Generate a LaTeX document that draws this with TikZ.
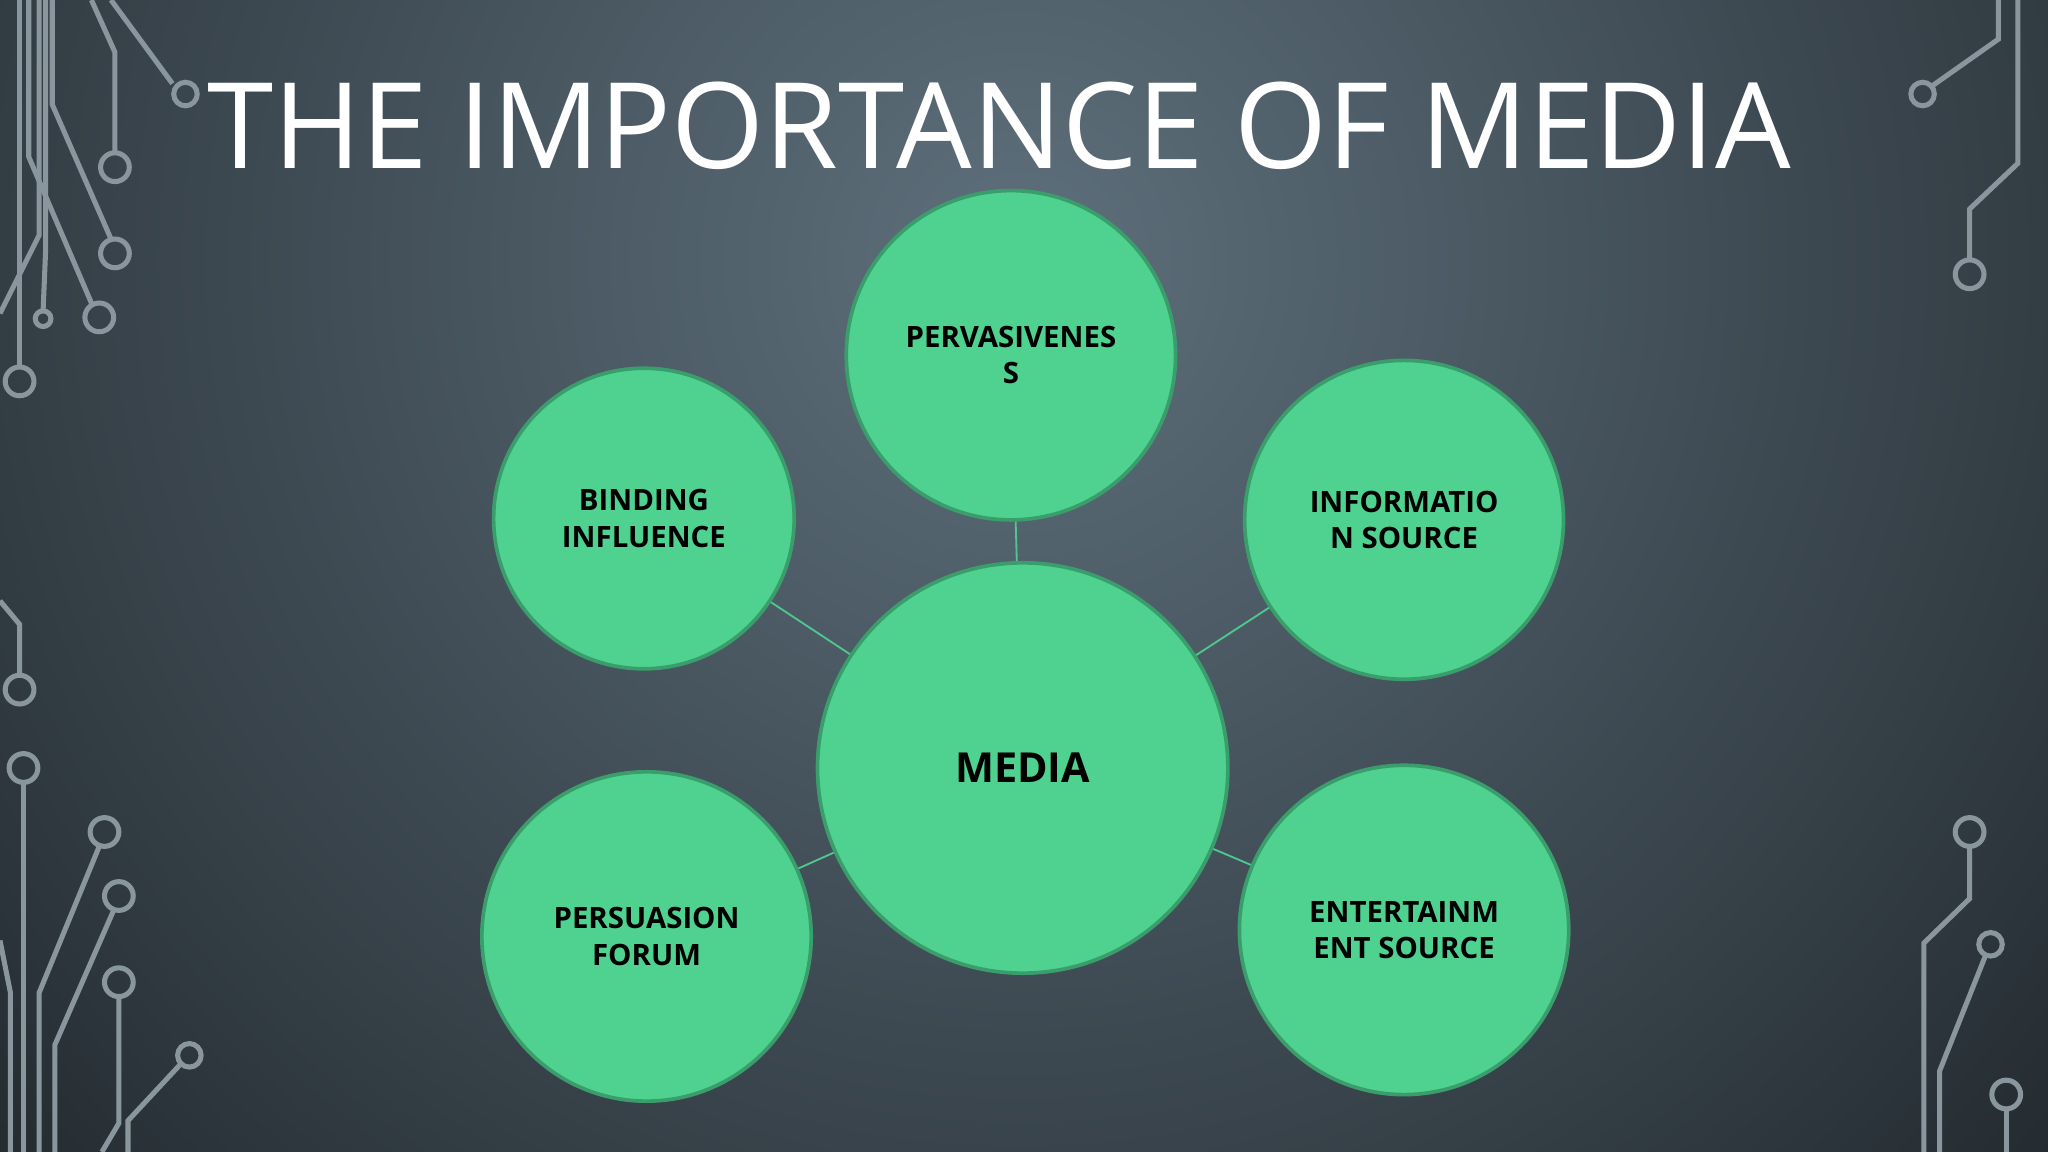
\documentclass[tikz,border=0pt]{standalone}
\usepackage{fontspec}
\setmainfont{Open Sans}
\definecolor{bgout}{HTML}{161B1F}
\definecolor{bgin}{HTML}{5E707C}
\definecolor{cfill}{HTML}{4FD190}
\definecolor{cdraw}{HTML}{3A9E6C}
\definecolor{eline}{HTML}{4FC890}
\definecolor{trace}{HTML}{8A969E}
\begin{document}
\begin{tikzpicture}[x=0.01cm,y=-0.01cm,
  bub/.style={circle,fill=cfill,draw=cdraw,line width=0.8pt,align=center,font=\bfseries\fontsize{6.4}{7.9}\selectfont,text=black,inner sep=0pt},
  conn/.style={draw=eline,line width=0.4pt},
  tr/.style={draw=trace,line width=1.1pt},
  pad/.style={draw=trace,line width=1.1pt}]
\useasboundingbox (0,0) rectangle (1568,882);
\begin{scope}
\clip (0,0) rectangle (1568,882);
\fill[bgout] (0,0) rectangle (1568,882);
\shade[inner color=bgin,outer color=bgout] (780,200) circle (1300);
\end{scope}
% circuit traces
\draw[tr] (15,0) -- (15,281); \draw[pad] (15,292) circle (11);
\draw[tr] (30,0) -- (30,180) -- (0,240);
\draw[tr] (35,0) -- (35,190) -- (33,238); \draw[pad] (33,244) circle (6);
\draw[tr] (40,0) -- (40,80) -- (85,183); \draw[pad] (88,194) circle (11);
\draw[tr] (22,0) -- (22,120) -- (70,232); \draw[pad] (76,243) circle (11);
\draw[tr] (70,0) -- (88,40) -- (88,117); \draw[pad] (88,128) circle (11);
\draw[tr] (85,0) -- (132,64); \draw[pad] (142,72) circle (9);
\draw[tr] (1530,0) -- (1530,30) -- (1479,66); \draw[pad] (1472,72) circle (9);
\draw[tr] (1545,0) -- (1545,125) -- (1508,160) -- (1508,199); \draw[pad] (1508,210) circle (11);
\draw[pad] (1508,637) circle (11); \draw[tr] (1508,648) -- (1508,688) -- (1473,722) -- (1473,882);
\draw[pad] (1524,723) circle (9); \draw[tr] (1520,732) -- (1485,820) -- (1485,882);
\draw[pad] (1536,838) circle (11); \draw[tr] (1536,849) -- (1536,882);
\draw[tr] (0,460) -- (15,478) -- (15,517); \draw[pad] (15,528) circle (11);
\draw[pad] (18,588) circle (11); \draw[tr] (18,599) -- (18,882);
\draw[tr] (0,720) -- (8,760) -- (8,882);
\draw[pad] (80,637) circle (11); \draw[tr] (76,648) -- (30,760) -- (30,882);
\draw[pad] (91,686) circle (11); \draw[tr] (87,697) -- (42,800) -- (42,882);
\draw[pad] (91,752) circle (11); \draw[tr] (91,763) -- (91,860) -- (78,882);
\draw[pad] (145,808) circle (9); \draw[tr] (138,815) -- (98,858) -- (98,882);
% title
\node[anchor=base west,text=white,font=\fontsize{26}{30}\selectfont,inner sep=0pt] (title) at (158,129) {THE IMPORTANCE OF MEDIA};
% bubbles
\node[bub,minimum size=3.14cm,font=\bfseries\fontsize{9}{11}\selectfont] (media) at (783,588) {MEDIA};
\node[bub,minimum size=2.52cm] (perv) at (774,272) {PERVASIVENES\\S};
\node[bub,minimum size=2.30cm] (bind) at (493,397) {BINDING\\INFLUENCE};
\node[bub,minimum size=2.44cm] (info) at (1075,398) {INFORMATIO\\N SOURCE};
\node[bub,minimum size=2.52cm] (pers) at (495,717) {PERSUASION\\FORUM};
\node[bub,minimum size=2.52cm] (ent) at (1075,712) {ENTERTAINM\\ENT SOURCE};
\draw[conn] (media) -- (perv);
\draw[conn] (media) -- (bind);
\draw[conn] (media) -- (info);
\draw[conn] (media) -- (pers);
\draw[conn] (media) -- (ent);
\end{tikzpicture}
\end{document}
